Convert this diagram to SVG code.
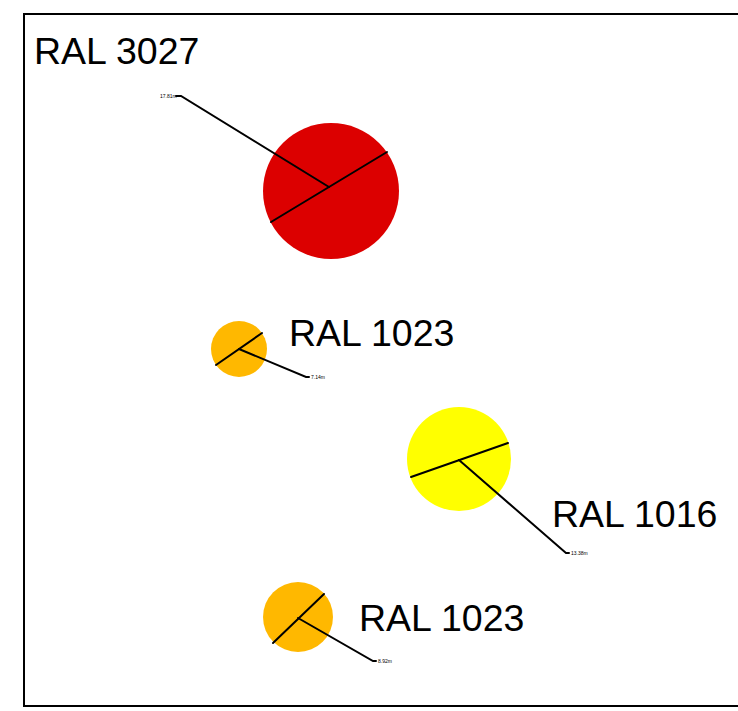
<svg xmlns="http://www.w3.org/2000/svg" width="738" height="711" viewBox="0 0 738 711">
<style>
.lbl{font-family:"Liberation Sans",Arial,sans-serif;font-size:37.5px;fill:#000}
.dim{font-family:"Liberation Sans",Arial,sans-serif;font-size:5px;fill:#000}
.ln{stroke:#000;stroke-width:2;fill:none;stroke-linecap:round}
</style>
<rect x="0" y="0" width="738" height="711" fill="#fff"/>
<rect x="24" y="14" width="730" height="692" fill="none" stroke="#000" stroke-width="2"/>
<g id="n1">
<circle cx="331" cy="191" r="68" fill="#dc0000"/>
<text class="lbl" x="34" y="64">RAL 3027</text>
</g>
<g id="n2">
<circle cx="239" cy="349" r="28" fill="#ffb800"/>
<text class="lbl" x="289" y="346">RAL 1023</text>
</g>
<g id="n3">
<circle cx="459" cy="459" r="52" fill="#ffff00"/>
<text class="lbl" x="552" y="527">RAL 1016</text>
</g>
<g id="n4">
<circle cx="298" cy="617" r="35" fill="#ffb800"/>
<text class="lbl" x="359" y="631">RAL 1023</text>
</g>
<g id="connectors">
<path class="ln" d="M271 222 L387 152"/>
<path class="ln" d="M329 187 L181 96 L176 96"/>
<path class="ln" d="M216 365 L262 333"/>
<path class="ln" d="M239 349 L306 377 L309 377"/>
<path class="ln" d="M411 477 L508 443"/>
<path class="ln" d="M459 460 L566 553 L569 553"/>
<path class="ln" d="M273 643 L324 594"/>
<path class="ln" d="M298 618 L373 661 L376 661"/>
<text class="dim" x="160" y="98">17.81m</text>
<text class="dim" x="311" y="379">7.14m</text>
<text class="dim" x="571" y="555">13.38m</text>
<text class="dim" x="378" y="663">8.92m</text>
</g>
</svg>
